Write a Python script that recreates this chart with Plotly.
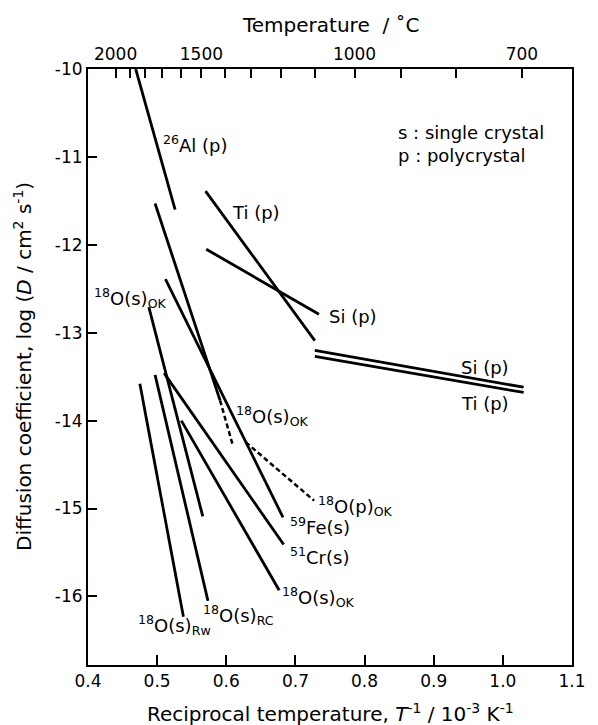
import plotly.graph_objects as go

# ---- data (x: 1/T in 10^-3 K^-1, y: log D) ----
al26_x = [0.469, 0.526];  al26_y = [-10.00, -11.60]
ti_hi_x = [0.570, 0.728]; ti_hi_y = [-11.39, -13.09]
si_hi_x = [0.571, 0.734]; si_hi_y = [-12.05, -12.79]
si_lo_x = [0.728, 1.030]; si_lo_y = [-13.20, -13.62]
ti_lo_x = [0.728, 1.030]; ti_lo_y = [-13.27, -13.68]
oka_x = [0.497, 0.591];   oka_y = [-11.53, -13.77]
oka_ext_x = [0.591, 0.609]; oka_ext_y = [-13.77, -14.27]
fe_x = [0.512, 0.682];    fe_y = [-12.39, -15.10]
okb_x = [0.488, 0.566];   okb_y = [-12.71, -15.09]
rw_x = [0.475, 0.538];    rw_y = [-13.58, -16.23]
rc_x = [0.497, 0.5735];   rc_y = [-13.48, -16.05]
cr_x = [0.510, 0.683];    cr_y = [-13.46, -15.41]
okc_x = [0.535, 0.6765];  okc_y = [-14.00, -15.93]
okp_x = [0.628, 0.727];   okp_y = [-14.245, -14.91]

x_ticks = [0.4, 0.5, 0.6, 0.7, 0.8, 0.9, 1.0, 1.1]
x_ticktext = ["0.4", "0.5", "0.6", "0.7", "0.8", "0.9", "1.0", "1.1"]
y_ticks = [-10, -11, -12, -13, -14, -15, -16]
y_ticktext = ["-10", "-11", "-12", "-13", "-14", "-15", "-16"]
temp_C = [2000, 1900, 1800, 1700, 1600, 1500, 1400, 1300, 1200, 1100, 1000, 900, 800, 700]
temp_labelled = [2000, 1500, 1000, 700]

FONT = "DejaVu Sans"
LW = 2.8

fig = go.Figure()

solid = [(al26_x, al26_y), (ti_hi_x, ti_hi_y), (si_hi_x, si_hi_y), (si_lo_x, si_lo_y),
         (ti_lo_x, ti_lo_y), (oka_x, oka_y), (fe_x, fe_y), (okb_x, okb_y), (rw_x, rw_y),
         (rc_x, rc_y), (cr_x, cr_y), (okc_x, okc_y)]
dashed = [(oka_ext_x, oka_ext_y), (okp_x, okp_y)]

for xs, ys in solid:
    fig.add_trace(go.Scatter(x=xs, y=ys, mode="lines", line=dict(color="black", width=LW),
                             showlegend=False, hoverinfo="skip"))
for xs, ys in dashed:
    fig.add_trace(go.Scatter(x=xs, y=ys, mode="lines",
                             line=dict(color="black", width=LW - 0.3, dash="5px,3px"),
                             showlegend=False, hoverinfo="skip"))
# invisible trace for top axis
fig.add_trace(go.Scatter(x=[0.4, 1.1], y=[-10, -10], xaxis="x2", mode="lines",
                         line=dict(width=0), showlegend=False, hoverinfo="skip"))

top_major = [1000.0 / (t + 273.15) for t in temp_labelled]
top_major_text = [str(t) for t in temp_labelled]
top_minor = [1000.0 / (t + 273.15) for t in temp_C if t not in temp_labelled]

labels = [
    ("<sup>26</sup>Al (p)", 0.5055, -10.85, "left"),
    ("Ti (p)", 0.6047, -11.63, "left"),
    ("Si (p)", 0.7459, -12.82, "left"),
    ("Si (p)", 1.0113, -13.39, "right"),
    ("Ti (p)", 1.0113, -13.81, "right"),
    ("s : single crystal", 0.845, -10.72, "left"),
    ("p : polycrystal", 0.845, -10.98, "left"),
    ("<sup>18</sup>O(s)<sub>OK</sub>", 0.406, -12.60, "left"),
    ("<sup>18</sup>O(s)<sub>OK</sub>", 0.6113, -13.95, "left"),
    ("<sup>18</sup>O(p)<sub>OK</sub>", 0.7293, -14.97, "left"),
    ("<sup>59</sup>Fe(s)", 0.6892, -15.20, "left"),
    ("<sup>51</sup>Cr(s)", 0.6892, -15.54, "left"),
    ("<sup>18</sup>O(s)<sub>OK</sub>", 0.6773, -16.01, "left"),
    ("<sup>18</sup>O(s)<sub>Rw</sub>", 0.4697, -16.33, "left"),
    ("<sup>18</sup>O(s)<sub>RC</sub>", 0.5636, -16.21, "left"),
]
annotations = []
for txt, x, y, anc in labels:
    annotations.append(dict(text=txt, x=x, y=y, xref="x", yref="y", xanchor=anc,
                            yanchor="middle", showarrow=False,
                            font=dict(family=FONT, size=18, color="black")))

annotations += [
    dict(text="Reciprocal temperature, <i>T</i><sup>-1</sup> / 10<sup>-3</sup> K<sup>-1</sup>",
         x=0.5, y=0, xref="paper", yref="paper", xanchor="center", yanchor="middle",
         yshift=-48, showarrow=False, font=dict(family=FONT, size=20, color="black")),
    dict(text="Temperature\u00a0\u00a0/ \u02daC",
         x=0.5, y=1, xref="paper", yref="paper", xanchor="center", yanchor="middle",
         yshift=44, showarrow=False, font=dict(family=FONT, size=20, color="black")),
    dict(text="Diffusion coefficient, log (<i>D</i> / cm<sup>2</sup> s<sup>-1</sup>)",
         x=0, y=0.5, xref="paper", yref="paper", xanchor="center", yanchor="middle",
         xshift=-65, textangle=-90, showarrow=False,
         font=dict(family=FONT, size=20, color="black")),
]

fig.update_layout(
    width=598, height=725,
    margin=dict(l=88, r=16, t=69, b=60),
    paper_bgcolor="white", plot_bgcolor="white",
    showlegend=False,
    font=dict(family=FONT, color="black"),
    xaxis=dict(range=[0.4, 1.1], tickvals=x_ticks, ticktext=x_ticktext,
               ticks="inside", ticklen=10, tickwidth=2, tickcolor="black",
               showline=True, linewidth=2, linecolor="black", mirror=False,
               showgrid=False, zeroline=False,
               tickfont=dict(family=FONT, size=17, color="black")),
    xaxis2=dict(range=[0.4, 1.1], overlaying="x", side="top", anchor="y",
                tickmode="array", tickvals=top_major, ticktext=top_major_text,
                ticks="inside", ticklen=9, tickwidth=2, tickcolor="black",
                minor=dict(tickmode="array", tickvals=top_minor, ticks="inside",
                           ticklen=9, tickwidth=2, tickcolor="black", showgrid=False),
                showline=True, linewidth=2, linecolor="black",
                showgrid=False, zeroline=False,
                tickfont=dict(family=FONT, size=17, color="black")),
    yaxis=dict(range=[-16.78, -10], tickvals=y_ticks, ticktext=y_ticktext,
               ticks="inside", ticklen=9, tickwidth=2, tickcolor="black",
               showline=True, linewidth=2, linecolor="black", mirror=True,
               showgrid=False, zeroline=False,
               tickfont=dict(family=FONT, size=17, color="black")),
    annotations=annotations,
)

fig.write_html("out.html")
